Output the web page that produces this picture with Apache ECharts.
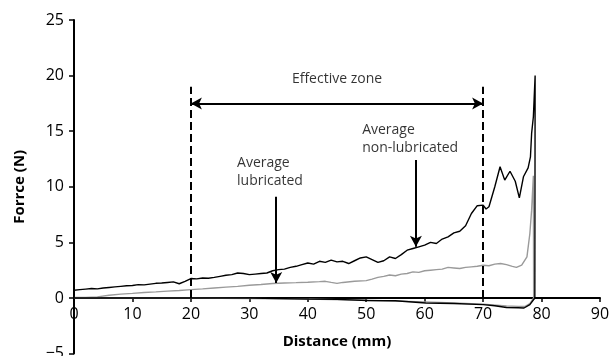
<!DOCTYPE html>
<html>
<head>
<meta charset="utf-8">
<script src="https://cdn.jsdelivr.net/npm/echarts@6/dist/echarts.min.js"></script>
<style>
  html, body { margin: 0; padding: 0; background: #fff; }
  #chart { width: 611px; height: 356px; }
</style>
</head>
<body>
<div id="chart"></div>
<script>
// Axis ticks
const distanceTicks = [0, 10, 20, 30, 40, 50, 60, 70, 80, 90];
const forceTicks = [-5, 0, 5, 10, 15, 20, 25];

// Non-lubricated run: approach then retraction (distance mm, force N)
const dryDistance = [
  0, 0, 1, 2, 3, 4, 5, 6, 7, 8, 9, 10, 11, 12, 13, 14, 15, 16, 17, 18, 19,
  20, 21, 22, 23, 24, 25, 26, 27, 28, 29, 30, 31, 32, 33, 34, 35, 36, 37, 38, 39,
  40, 41, 42, 43, 44, 45, 46, 47, 48, 49, 50, 51, 52, 53, 54, 55, 56, 57, 58, 59,
  60, 61, 62, 63, 64, 65, 66, 67, 68, 69, 70, 70.5, 71, 72, 72.9, 73.7, 74.6, 75.5,
  76.2, 76.9, 77.7, 78.1, 78.3, 78.6, 78.9,
  78.85, 78.0, 77.0, 76.0, 74.0, 72.0, 70.0, 65.0, 60.2, 60.0, 55.0, 50.2, 50.0,
  45.0, 40.2, 40.0, 30.0, 0
];
const dryForce = [
  0, 0.7, 0.75, 0.8, 0.85, 0.82, 0.9, 0.95, 1.0, 1.05, 1.1, 1.12, 1.2, 1.18, 1.25, 1.32, 1.35, 1.4, 1.45, 1.28, 1.5,
  1.75, 1.72, 1.8, 1.78, 1.85, 1.95, 2.05, 2.1, 2.25, 2.2, 2.1, 2.15, 2.2, 2.25, 2.45, 2.55, 2.6, 2.75, 2.85, 3.0,
  3.15, 3.05, 3.3, 3.2, 3.4, 3.25, 3.3, 3.1, 3.35, 3.6, 3.7, 3.45, 3.2, 3.35, 3.7, 3.55, 3.9, 4.3, 4.45, 4.6,
  4.75, 5.0, 4.9, 5.3, 5.5, 5.85, 6.0, 6.5, 7.6, 8.3, 8.35, 8.0, 8.2, 10.0, 11.8, 10.6, 11.4, 10.5,
  9.0, 10.9, 11.7, 12.7, 14.8, 16.3, 20.0,
  0, -0.6, -0.9, -0.88, -0.85, -0.7, -0.6, -0.5, -0.45, -0.3, -0.25, -0.22, -0.15,
  -0.12, -0.1, -0.02, 0, 0
];

// Lubricated run: approach then retraction
const lubDistance = [
  0, 2, 4, 6, 8, 10, 12, 14, 16, 18, 20, 22, 24, 26, 28, 30, 32, 34, 36, 38,
  40, 42, 43, 44, 45, 46, 48, 50, 51, 52, 53, 54, 55, 56, 57, 58, 59, 60, 61, 62,
  63, 64, 65, 66, 67, 68, 69, 70, 71, 72, 73, 74, 75, 75.7, 76.6, 77.5, 78.0, 78.3, 78.6,
  78.65, 78.0, 77.2, 76.0, 74.0, 70.0, 65.0, 60.0, 50.0, 40.0, 30.0, 20.0, 0
];
const lubForce = [
  0.05, 0.05, 0.1, 0.25, 0.35, 0.42, 0.5, 0.55, 0.62, 0.68, 0.75, 0.82, 0.9, 0.98, 1.05, 1.15, 1.22, 1.3, 1.35, 1.38,
  1.42, 1.47, 1.5, 1.4, 1.32, 1.4, 1.5, 1.56, 1.7, 1.85, 1.95, 2.07, 2.0, 2.15, 2.2, 2.35, 2.3, 2.45, 2.5, 2.55,
  2.6, 2.75, 2.7, 2.65, 2.75, 2.8, 2.85, 2.95, 2.9, 3.05, 3.1, 3.0, 2.85, 2.75, 2.95, 3.7, 5.8, 7.9, 11.0,
  0, -0.5, -0.75, -0.75, -0.72, -0.55, -0.45, -0.35, -0.2, -0.1, -0.05, 0, 0
];

// Effective zone bounds and annotation text
const zoneBounds = [20, 70];
const zoneTop = 19;
const zoneArrowLevel = 17.5;
const noteTexts = ['Effective zone', 'Average\nlubricated', 'Average\nnon-lubricated'];
const notePoints = [[45, 19.7], [27.9, 11.3], [49.3, 14.3]];
const pointerX = [34.6, 58.5];
const pointerFrom = [9.1, 12.4];
const pointerTo = [1.35, 4.6];

const pairs = (xs, ys) => xs.map((x, i) => [x, ys[i]]);
const FONT = '"Open Sans", "Noto Sans", sans-serif';

// Plot box; the distance axis is lifted from the bottom edge up to force = 0
const GRID = { left: 74, right: 11, top: 20, bottom: 2.4 };
const plotHeight = 356 - GRID.top - GRID.bottom;
const forceSpan = forceTicks[forceTicks.length - 1] - forceTicks[0];
const zeroLift = plotHeight * (0 - forceTicks[0]) / forceSpan;

const chart = echarts.init(document.getElementById('chart'), null, { renderer: 'canvas' });

const markLines = [];
zoneBounds.forEach(x => {
  markLines.push([
    { coord: [x, 0], symbol: 'none', lineStyle: { type: [8, 4], width: 2 } },
    { coord: [x, zoneTop], symbol: 'none' }
  ]);
});
markLines.push([
  { coord: [zoneBounds[0], zoneArrowLevel], symbol: 'arrow', lineStyle: { type: 'solid', width: 2 } },
  { coord: [zoneBounds[1], zoneArrowLevel], symbol: 'arrow' }
]);
pointerX.forEach((x, i) => {
  markLines.push([
    { coord: [x, pointerFrom[i]], symbol: 'none', lineStyle: { type: 'solid', width: 2 } },
    { coord: [x, pointerTo[i]], symbol: 'arrow' }
  ]);
});

chart.setOption({
  animation: false,
  backgroundColor: '#fff',
  grid: Object.assign({ containLabel: false, outerBoundsMode: 'none' }, GRID),
  xAxis: {
    type: 'value',
    position: 'bottom',
    offset: -zeroLift,
    min: distanceTicks[0],
    max: distanceTicks[distanceTicks.length - 1],
    interval: distanceTicks[1] - distanceTicks[0],
    name: 'Distance (mm)',
    nameLocation: 'middle',
    nameGap: 36,
    nameTextStyle: { fontFamily: FONT, fontSize: 15, fontWeight: 'bold', color: '#000' },
    axisLine: { onZero: false, lineStyle: { color: '#000', width: 2 } },
    axisTick: { show: true, inside: false, length: 4, lineStyle: { color: '#000', width: 1.5 } },
    axisLabel: { margin: 8, fontFamily: FONT, fontSize: 16, color: '#000' },
    splitLine: { show: false }
  },
  yAxis: {
    type: 'value',
    min: forceTicks[0],
    max: forceTicks[forceTicks.length - 1],
    interval: forceTicks[1] - forceTicks[0],
    name: 'Forrce (N)',
    nameLocation: 'middle',
    nameGap: 47,
    nameTextStyle: { fontFamily: FONT, fontSize: 15, fontWeight: 'bold', color: '#000' },
    axisLine: { onZero: false, lineStyle: { color: '#000', width: 2 } },
    axisTick: { show: true, inside: false, length: 5, lineStyle: { color: '#000', width: 1.5 } },
    axisLabel: {
      margin: 10, fontFamily: FONT, fontSize: 16, color: '#000',
      formatter: v => (v < 0 ? '\u2212' + Math.abs(v) : String(v))
    },
    splitLine: { show: false }
  },
  series: [
    {
      name: 'Average lubricated',
      type: 'line',
      data: pairs(lubDistance, lubForce),
      showSymbol: false,
      symbol: 'none',
      lineStyle: { color: '#9a9a9a', width: 1.4 },
      z: 2
    },
    {
      name: 'Average non-lubricated',
      type: 'line',
      data: pairs(dryDistance, dryForce),
      showSymbol: false,
      symbol: 'none',
      lineStyle: { color: '#000', width: 1.4 },
      z: 3
    },
    {
      name: 'annotations',
      type: 'scatter',
      symbolSize: 0,
      silent: true,
      data: notePoints.map((p, i) => ({
        value: p,
        label: {
          show: true,
          formatter: noteTexts[i],
          position: [0, 0],
          align: i === 0 ? 'center' : 'left',
          verticalAlign: 'middle',
          fontFamily: FONT,
          fontSize: 14,
          lineHeight: 18,
          color: '#000'
        }
      })),
      markLine: {
        silent: true,
        symbolSize: [9, 11],
        label: { show: false },
        lineStyle: { color: '#000', width: 2 },
        data: markLines
      },
      z: 4
    }
  ]
});
</script>
</body>
</html>
